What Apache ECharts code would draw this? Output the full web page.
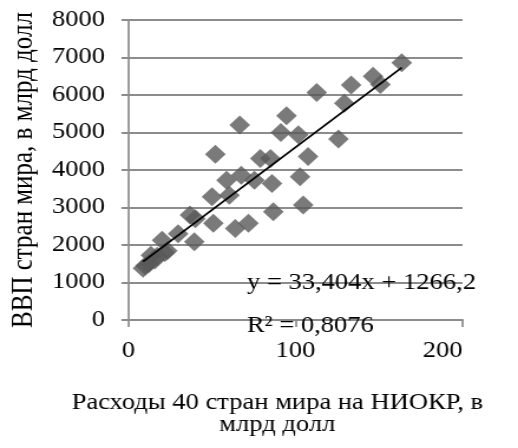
<!DOCTYPE html>
<html>
<head>
<meta charset="utf-8">
<script src="https://cdn.jsdelivr.net/npm/echarts@6/dist/echarts.min.js"></script>
<style>
html,body{margin:0;padding:0;background:#fff;overflow:hidden;}
#wrap{width:518px;height:448px;overflow:hidden;position:relative;}
#chart{width:439px;height:448px;transform:scaleX(1.18);transform-origin:0 0;}
</style>
</head>
<body>
<div id="wrap"><div id="chart"></div></div>
<script>
// R&D spending (bn USD)
var rnd = [8.7, 10.2, 12.2, 13.4, 15.7, 17.2, 20.1, 21.8, 23.2, 29.7,
           36.8, 40.0, 39.4, 50.8, 52.0, 50.0, 58.7, 60.4, 63.9, 66.6,
           67.5, 71.8, 75.4, 78.9, 85.0, 85.9, 86.7, 91.2, 94.6, 101.7,
           107.5, 102.7, 104.6, 112.7, 125.7, 129.2, 133.3, 146.4, 150.8, 163.6];
// GDP (bn USD)
var gdp = [1380, 1450, 1510, 1730, 1600, 1700, 2130, 1800, 1850, 2300,
           2800, 2700, 2090, 2580, 4420, 3290, 3730, 3330, 2440, 5200,
           3860, 2580, 3730, 4310, 4310, 3640, 2890, 5000, 5450, 4940,
           4360, 3820, 3070, 6070, 4830, 5780, 6270, 6500, 6280, 6860];
var slope = 33.404, intercept = 1266.2;
var eqText = 'y = 33,404x + 1266,2';
var r2Text = 'R² = 0,8076';
var xTicks = [0, 100, 200];
var yTicks = [0, 1000, 2000, 3000, 4000, 5000, 6000, 7000, 8000];
var xName = 'Расходы 40 стран мира на НИОКР, в\nмлрд долл';
var yName = 'ВВП стран мира, в млрд долл';

var pts = rnd.map(function(v, i){ return [v, gdp[i]]; });
var xmin = Math.min.apply(null, rnd), xmax = Math.max.apply(null, rnd);
var trend = [[xmin, slope*xmin+intercept], [xmax, slope*xmax+intercept]];

var FONT = 'Liberation Serif';
var plain = function(v){ return String(v); };
var chart = echarts.init(document.getElementById('chart'), null, {renderer:'canvas'});
chart.setOption({
  animation: false,
  backgroundColor: '#ffffff',
  grid: {left: 100.4, right: 17, top: 20, bottom: 128, containLabel: false},
  xAxis: {
    type: 'value', min: xTicks[0], max: xTicks[xTicks.length-1], interval: 100,
    axisLine: {show: true, lineStyle: {color: '#8c8c8c', width: 2}},
    axisTick: {show: true, inside: false, length: 7, lineStyle: {color: '#8c8c8c', width: 1.7}},
    splitLine: {show: false},
    axisLabel: {fontFamily: FONT, fontSize: 22.5, color: '#000', margin: 20, alignMaxLabel: 'right', formatter: plain},
    name: xName, nameLocation: 'middle', nameGap: 72,
    nameTextStyle: {fontFamily: FONT, fontSize: 22.5, color: '#000', lineHeight: 22, padding: [0, 31, 0, 0]}
  },
  yAxis: {
    type: 'value', min: yTicks[0], max: yTicks[yTicks.length-1], interval: 1000,
    axisLine: {show: true, lineStyle: {color: '#8c8c8c', width: 1.7}},
    axisTick: {show: true, inside: false, length: 6, lineStyle: {color: '#8c8c8c', width: 2}},
    splitLine: {show: true, lineStyle: {color: '#8c8c8c', width: 2}},
    axisLabel: {fontFamily: FONT, fontSize: 22.5, color: '#000', margin: 20, formatter: plain},
    name: yName, nameLocation: 'middle', nameGap: 69, nameRotate: 90,
    nameTextStyle: {fontFamily: FONT, fontSize: 25, color: '#000'}
  },
  series: [
    {type: 'scatter', data: pts, symbol: 'diamond', symbolSize: [17.5, 19],
     itemStyle: {color: '#595959'}, z: 3},
    {type: 'line', data: trend, symbol: 'none', lineStyle: {color: '#000', width: 1.8}, z: 4}
  ],
  graphic: [
    {type: 'text', left: 209.3, top: 272, z: 10,
     style: {text: eqText, fontFamily: FONT, fontSize: 22.5, fill: '#000'}},
    {type: 'text', left: 209.3, top: 315, z: 10,
     style: {text: r2Text, fontFamily: FONT, fontSize: 22.5, fill: '#000'}}
  ]
});
</script>
</body>
</html>
